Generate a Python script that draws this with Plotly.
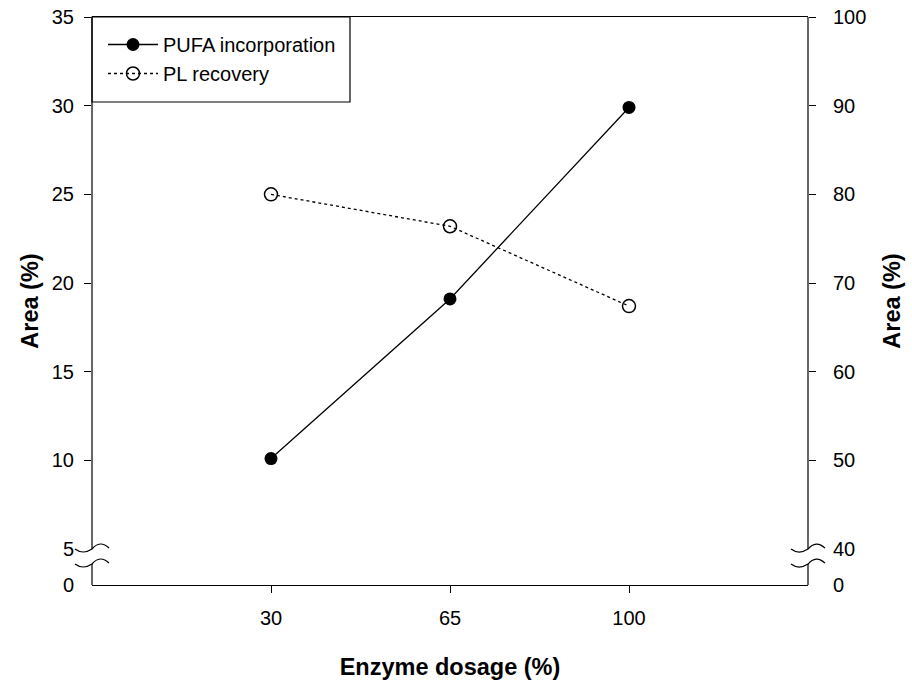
import plotly.graph_objects as go

# Enzyme dosage series
dosage = [30, 65, 100]
pufa_incorporation = [10.1, 19.1, 29.9]   # left axis, Area (%)
pl_recovery = [80.0, 76.4, 67.4]          # right axis, Area (%)

left_ticks = [10, 15, 20, 25, 30, 35]
right_ticks = [50, 60, 70, 80, 90, 100]

# Broken axes: the segment below the break is compressed, so "0" sits just under it
LEFT_BREAK, LEFT_ZERO_POS, LEFT_TOP = 5, 2.97, 35
RIGHT_BREAK, RIGHT_ZERO_POS, RIGHT_TOP = 40, 35.95, 100

FONT = "Liberation Sans, Arial, sans-serif"
TICK_FONT = dict(family=FONT, size=20, color="black")
TITLE_FONT = dict(family=FONT, size=23.5, color="black")

PLOT_H = 686 - 17 - 101

fig = go.Figure()

fig.add_trace(go.Scatter(
    x=dosage, y=pufa_incorporation, name="PUFA incorporation",
    mode="lines+markers",
    line=dict(color="black", width=1.3),
    marker=dict(symbol="circle", size=13, color="black"),
    yaxis="y",
))
fig.add_trace(go.Scatter(
    x=dosage, y=pl_recovery, name="PL recovery",
    mode="lines+markers",
    line=dict(color="black", width=1.3, dash="dot"),
    marker=dict(symbol="circle-open", size=13, color="black", line=dict(width=1.5)),
    yaxis="y2",
))

axis_common = dict(
    showgrid=False, zeroline=False, ticks="outside", ticklen=7, tickwidth=1.2,
    tickcolor="black", tickfont=TICK_FONT, automargin=False,
)

fig.update_layout(
    width=912, height=686,
    margin=dict(l=92, r=104, t=17, b=101),
    paper_bgcolor="white", plot_bgcolor="white",
    showlegend=True,
    legend=dict(
        x=11 / 716, y=1 - 8 / PLOT_H, xanchor="left", yanchor="top",
        bgcolor="rgba(0,0,0,0)", borderwidth=0,
        font=TICK_FONT, itemwidth=50, tracegroupgap=0,
    ),
    xaxis=dict(
        **axis_common, range=[-5, 135], tickvals=dosage,
        showline=True, linecolor="black", linewidth=1.2, mirror=True,
        ticklabelstandoff=8,
        title=dict(text="<b>Enzyme dosage (%)</b>", font=TITLE_FONT, standoff=30),
    ),
    yaxis=dict(
        **axis_common, range=[LEFT_ZERO_POS, LEFT_TOP], tickvals=left_ticks,
        showline=False, ticklabelstandoff=6,
        title=dict(text="<b>Area (%)</b>", font=TITLE_FONT, standoff=6),
    ),
    yaxis2=dict(
        **axis_common, range=[RIGHT_ZERO_POS, RIGHT_TOP], tickvals=right_ticks,
        overlaying="y", side="right", showline=False, ticklabelstandoff=13,
        title=dict(text="<b>Area (%)</b>", font=TITLE_FONT, standoff=18),
    ),
    # labels at the break, drawn without tick marks
    yaxis3=dict(
        **{**axis_common, "tickcolor": "rgba(0,0,0,0)"},
        range=[LEFT_ZERO_POS, LEFT_TOP], tickvals=[LEFT_ZERO_POS, LEFT_BREAK],
        ticktext=["0", "5"], overlaying="y", side="left", showline=False,
        ticklabelstandoff=6,
    ),
    yaxis4=dict(
        **{**axis_common, "tickcolor": "rgba(0,0,0,0)"},
        range=[RIGHT_ZERO_POS, RIGHT_TOP], tickvals=[RIGHT_ZERO_POS, RIGHT_BREAK],
        ticktext=["0", "40"], overlaying="y", side="right", showline=False,
        ticklabelstandoff=13,
    ),
)

# empty traces so the label-only axes get drawn
fig.add_trace(go.Scatter(x=[None], y=[None], yaxis="y3", showlegend=False, hoverinfo="skip"))
fig.add_trace(go.Scatter(x=[None], y=[None], yaxis="y4", showlegend=False, hoverinfo="skip"))

LINE = dict(color="black", width=1.2)
GAP = 15  # px between the two break marks

# legend frame in the top-left corner of the plot
fig.add_shape(type="rect", xref="paper", yref="paper",
              xsizemode="pixel", xanchor=0, x0=0, x1=258,
              ysizemode="pixel", yanchor=1, y0=0, y1=-85,
              line=LINE, fillcolor="rgba(0,0,0,0)", layer="above")


def squiggle(dy):
    # tilde-shaped break mark, pixel offsets (screen y down) converted to shape coords (y up)
    pts = [(-17, 0), (-9, 6), (0, 0), (8, -9.5), (17, -1)]
    p = [(x, -(y + dy)) for x, y in pts]
    return (f"M{p[0][0]},{p[0][1]} Q{p[1][0]},{p[1][1]} {p[2][0]},{p[2][1]} "
            f"Q{p[3][0]},{p[3][1]} {p[4][0]},{p[4][1]}")


for xpos, yref, brk, top in [(0, "y", LEFT_BREAK, LEFT_TOP), (1, "y2", RIGHT_BREAK, RIGHT_TOP)]:
    # axis line above the break
    fig.add_shape(type="line", xref="paper", yref=yref, x0=xpos, x1=xpos, y0=brk, y1=top,
                  line=LINE, layer="above")
    # axis line below the break, down to the x axis
    fig.add_shape(type="line", xref="paper", yref="paper", x0=xpos, x1=xpos,
                  ysizemode="pixel", yanchor=0, y0=0, y1=36 - GAP,
                  line=LINE, layer="above")
    for dy in (0, GAP):
        fig.add_shape(type="path", xref="paper", yref=yref,
                      xsizemode="pixel", xanchor=xpos, ysizemode="pixel", yanchor=brk,
                      path=squiggle(dy), line=LINE, layer="above")

fig.write_html("out.html")
